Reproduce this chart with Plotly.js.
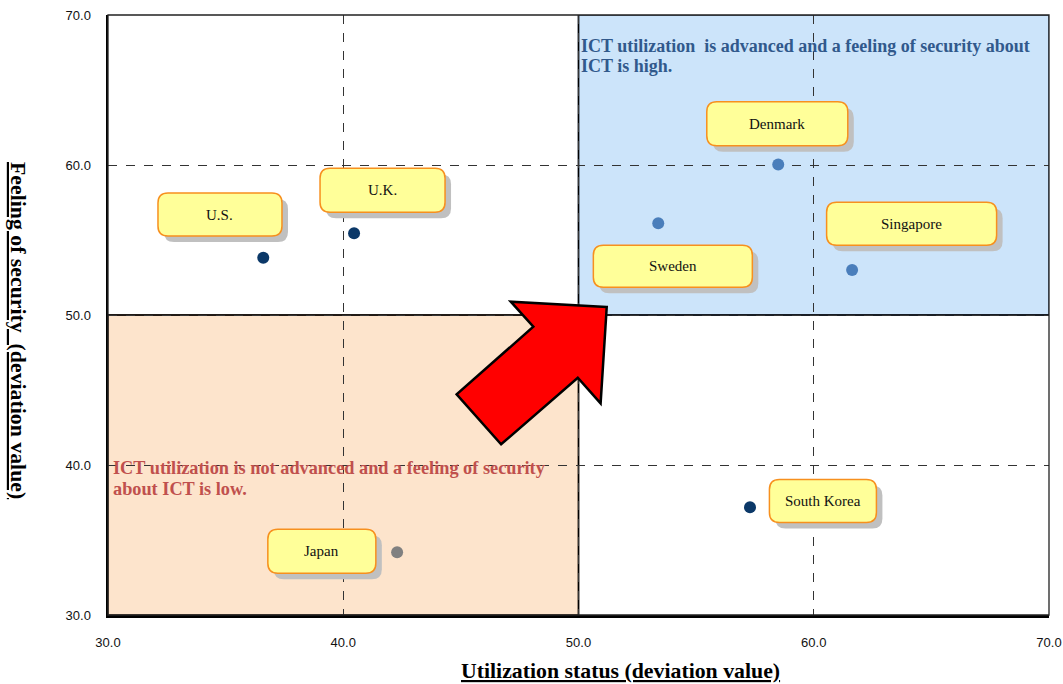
<!DOCTYPE html>
<html>
<head>
<meta charset="utf-8">
<script src="https://cdn.plot.ly/plotly-3.0.1.min.js"></script>
<style>
  html, body { margin: 0; padding: 0; background: #ffffff; }
  #chart { width: 1063px; height: 684px; }
</style>
</head>
<body>
<div id="chart"></div>
<script>
// Countries plotted by ICT utilization (x) and feeling of security (y), both as deviation values
const countries   = ['U.S.', 'U.K.', 'Denmark', 'Sweden', 'Singapore', 'South Korea', 'Japan'];
const utilization = [36.6, 40.46, 58.49, 53.39, 61.63, 57.29, 42.29];
const security    = [53.82, 55.45, 60.04, 56.11, 53.0, 37.18, 34.18];

// Axis ticks
const tickValues = [30, 40, 50, 60, 70];
const tickLabels = ['30.0', '40.0', '50.0', '60.0', '70.0'];

// Marker colour per country
const pointColors = ['#0b3868', '#0b3868', '#4a7ebb', '#4a7ebb', '#4a7ebb', '#0b3868', '#808080'];

// Callout boxes: centre (data units) and size (pixels)
const labelX = [34.76, 41.67, 58.45, 54.01, 64.16, 60.39, 39.09];
const labelY = [56.70, 58.31, 62.75, 53.25, 56.09, 37.60, 34.25];
const labelW = [124, 125, 141, 159, 170, 107, 108];
const labelH = [43, 44, 44, 42, 43, 43, 44];

// Quadrant captions, one entry per line
const highLines = ['ICT utilization  is advanced and a feeling of security about', 'ICT is high.'];
const lowLines  = ['ICT utilization is not advanced and a feeling of security', 'about ICT is low.'];

// Red arrow outline in data units
const arrowX = [51.20, 47.12, 48.08, 44.82, 46.71, 49.97, 50.94];
const arrowY = [50.53, 50.89, 49.22, 44.71, 41.38, 45.82, 44.11];

const W = 1063, H = 684;
const M = { l: 108, r: 14, t: 15, b: 69 };
const xRange = [30, 70], yRange = [30, 70];
const PW = W - M.l - M.r, PH = H - M.t - M.b;
const kx = PW / (xRange[1] - xRange[0]);
const ky = PH / (yRange[1] - yRange[0]);
const px2paperX = p => (p - M.l) / PW;
const px2paperY = p => 1 - (p - M.t) / PH;

function roundedBox(cx, cy, w, h, r, dxPx, dyPx) {
  const hw = w / 2 / kx, hh = h / 2 / ky;
  const ox = dxPx / kx, oy = -dyPx / ky;
  const x0 = cx - hw + ox, x1 = cx + hw + ox;
  const y0 = cy - hh + oy, y1 = cy + hh + oy;
  const rx = r / kx, ry = r / ky;
  return `M ${x0 + rx},${y1} L ${x1 - rx},${y1} Q ${x1},${y1} ${x1},${y1 - ry} ` +
         `L ${x1},${y0 + ry} Q ${x1},${y0} ${x1 - rx},${y0} L ${x0 + rx},${y0} ` +
         `Q ${x0},${y0} ${x0},${y0 + ry} L ${x0},${y1 - ry} Q ${x0},${y1} ${x0 + rx},${y1} Z`;
}

const shapes = [
  // quadrant fills
  { type: 'rect', xref: 'x', yref: 'y', x0: 50, x1: 70, y0: 50, y1: 70, layer: 'below',
    fillcolor: '#cce4fa', line: { color: '#3d5270', width: 1.5 } },
  { type: 'rect', xref: 'x', yref: 'y', x0: 30, x1: 50, y0: 30, y1: 50, layer: 'below',
    fillcolor: '#fde4cc', line: { color: '#5a3d28', width: 1.5 } },
  // centre dividers
  { type: 'line', xref: 'x', yref: 'y', x0: 50, x1: 50, y0: 30, y1: 70, layer: 'below',
    line: { color: '#000000', width: 1.5 } },
  { type: 'line', xref: 'x', yref: 'y', x0: 30, x1: 70, y0: 50, y1: 50, layer: 'below',
    line: { color: '#000000', width: 1.5 } },
  // outer frame
  { type: 'rect', xref: 'paper', yref: 'paper', x0: 0, x1: 1, y0: 0, y1: 1, layer: 'above',
    line: { color: '#222222', width: 1.3 } }
];

// callout shadows, then the boxes
countries.forEach((c, i) => {
  shapes.push({ type: 'path', xref: 'x', yref: 'y', layer: 'above',
    path: roundedBox(labelX[i], labelY[i], labelW[i], labelH[i], 10, 6, 6),
    fillcolor: '#c0c0c0', line: { width: 0 } });
});
countries.forEach((c, i) => {
  shapes.push({ type: 'path', xref: 'x', yref: 'y', layer: 'above',
    path: roundedBox(labelX[i], labelY[i], labelW[i], labelH[i], 10, 0, 0),
    fillcolor: '#ffff99', line: { color: '#f7901e', width: 1.5 } });
});

// arrow
const arrowPath = 'M ' + arrowX.map((x, i) => `${x},${arrowY[i]}`).join(' L ') + ' Z';
shapes.push({ type: 'path', xref: 'x', yref: 'y', layer: 'above', path: arrowPath,
  fillcolor: '#ff0000', line: { color: '#000000', width: 2.5 } });

const serif = 'Liberation Serif, Times New Roman, serif';
const annotations = countries.map((c, i) => ({
  x: labelX[i], y: labelY[i], xref: 'x', yref: 'y', text: c, showarrow: false,
  font: { family: serif, size: 15, color: '#111111' }, xanchor: 'center', yanchor: 'middle'
}));

// quadrant captions
highLines.forEach((t, i) => annotations.push({
  xref: 'paper', yref: 'paper', x: px2paperX(579), y: px2paperY(46 + 20 * i),
  xanchor: 'left', yanchor: 'middle', showarrow: false, text: '<b>' + t + '</b>',
  font: { family: serif, size: 18, color: '#31598c' }
}));
lowLines.forEach((t, i) => annotations.push({
  xref: 'paper', yref: 'paper', x: px2paperX(111), y: px2paperY(468 + 21 * i),
  xanchor: 'left', yanchor: 'middle', showarrow: false, text: '<b>' + t + '</b>',
  font: { family: serif, size: 18.3, color: '#c0504d' }
}));

// axis titles
annotations.push({
  xref: 'paper', yref: 'paper', x: px2paperX(620), y: px2paperY(671),
  xanchor: 'center', yanchor: 'middle', showarrow: false,
  text: '<b><u>Utilization status (deviation value)</u></b>',
  font: { family: serif, size: 21.8, color: '#000000' }
});
annotations.push({
  xref: 'paper', yref: 'paper', x: px2paperX(18), y: px2paperY(330),
  xanchor: 'center', yanchor: 'middle', showarrow: false, textangle: 90,
  text: '<b><u>Feeling of security  (deviation value)</u></b>',
  font: { family: serif, size: 21.8, color: '#000000' }
});

const trace = {
  type: 'scatter', mode: 'markers', x: utilization, y: security, text: countries,
  marker: { size: 12, color: pointColors }, hoverinfo: 'text+x+y', cliponaxis: false
};

const axisCommon = {
  tickmode: 'array', tickvals: tickValues, ticktext: tickLabels,
  showgrid: true, gridcolor: '#333333', griddash: 'dash', gridwidth: 1,
  zeroline: false, showline: true, linecolor: '#000000', linewidth: 2.5,
  ticks: '', tickfont: { family: 'Liberation Sans, Arial, sans-serif', size: 13, color: '#111111' }
};

const layout = {
  width: W, height: H, margin: M,
  paper_bgcolor: '#ffffff', plot_bgcolor: '#ffffff',
  showlegend: false,
  xaxis: Object.assign({}, axisCommon, { range: xRange, ticklabelstandoff: 14 }),
  yaxis: Object.assign({}, axisCommon, { range: yRange, ticklabelstandoff: 12 }),
  shapes: shapes, annotations: annotations
};

Plotly.newPlot('chart', [trace], layout, { displayModeBar: false, staticPlot: true });
</script>
</body>
</html>
